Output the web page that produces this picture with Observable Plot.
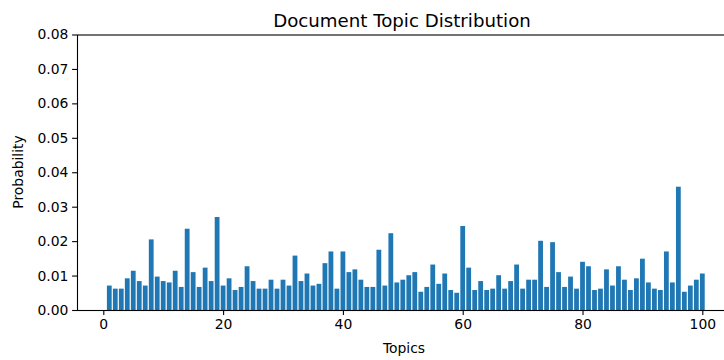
<!DOCTYPE html>
<html>
<head>
<meta charset="utf-8">
<script src="https://cdn.jsdelivr.net/npm/d3@7"></script>
<script src="https://cdn.jsdelivr.net/npm/@observablehq/plot@0.6"></script>
<style>
  html, body { margin: 0; padding: 0; background: #fff; overflow: hidden; width: 724px; height: 360px; }
  #wrap { position: relative; width: 724px; height: 360px; overflow: hidden; font-family: "DejaVu Sans", sans-serif; color: #000; }
  #chart { position: absolute; left: 0; top: 0; width: 735px; height: 360px; }
  #chart svg { max-width: none !important; }
  .lbl { position: absolute; white-space: nowrap; line-height: 1; }
  #title { font-size: 18.2px; left: 402px; top: 12px; transform: translateX(-50%); }
  #xlabel { font-size: 13.9px; left: 404px; top: 342px; transform: translateX(-50%); }
  #ylabel { font-size: 13.9px; left: 19px; top: 172px; transform: translate(-50%, -50%) rotate(-90deg); }
</style>
</head>
<body>
<div id="wrap">
  <div id="chart"></div>
  <div class="lbl" id="title">Document Topic Distribution</div>
  <div class="lbl" id="xlabel">Topics</div>
  <div class="lbl" id="ylabel">Probability</div>
</div>
<script>
const topics = d3.range(1, 101);
const probabilities = [
  0.0071, 0.0062, 0.0062, 0.0092, 0.0114, 0.0084, 0.0071, 0.0205, 0.0097, 0.0084,
  0.0080, 0.0114, 0.0067, 0.0236, 0.0110, 0.0067, 0.0123, 0.0084, 0.0270, 0.0071,
  0.0092, 0.0058, 0.0067, 0.0127, 0.0084, 0.0062, 0.0062, 0.0088, 0.0062, 0.0088,
  0.0071, 0.0158, 0.0084, 0.0106, 0.0071, 0.0076, 0.0136, 0.0170, 0.0062, 0.0170,
  0.0110, 0.0118, 0.0088, 0.0067, 0.0067, 0.0175, 0.0071, 0.0223, 0.0080, 0.0088,
  0.0101, 0.0110, 0.0053, 0.0067, 0.0132, 0.0076, 0.0106, 0.0058, 0.0050, 0.0244,
  0.0123, 0.0058, 0.0084, 0.0058, 0.0062, 0.0101, 0.0062, 0.0084, 0.0132, 0.0062,
  0.0088, 0.0088, 0.0201, 0.0067, 0.0197, 0.0110, 0.0067, 0.0097, 0.0062, 0.0140,
  0.0127, 0.0058, 0.0062, 0.0118, 0.0071, 0.0127, 0.0088, 0.0058, 0.0092, 0.0149,
  0.0080, 0.0062, 0.0058, 0.0170, 0.0080, 0.0358, 0.0053, 0.0071, 0.0088, 0.0106
];
const xTicks = [0, 20, 40, 60, 80, 100];
const yTicks = [0, 0.01, 0.02, 0.03, 0.04, 0.05, 0.06, 0.07, 0.08];

const data = topics.map((t, i) => ({topic: t, p: probabilities[i]}));
const barWidth = 0.8;

const plot = Plot.plot({
  width: 735,
  height: 360,
  marginLeft: 77,
  marginRight: 0.4,
  marginTop: 34.5,
  marginBottom: 50,
  style: {fontFamily: "DejaVu Sans, sans-serif", fontSize: "13.9px", color: "#000", background: "#fff", maxWidth: "none"},
  x: {domain: [-4.39, 105.39], ticks: xTicks, label: null},
  y: {domain: [0, 0.08], ticks: yTicks, label: null},
  marks: [
    Plot.rectY(data, {x1: d => d.topic - barWidth / 2, x2: d => d.topic + barWidth / 2, y: "p", fill: "#1f77b4"}),
    Plot.axisX({ticks: xTicks, tickSize: 4.9, tickPadding: 4.2, tickFormat: d3.format("d"), label: null, fontSize: 13.9, stroke: "#000", strokeWidth: 1.1}),
    Plot.axisY({ticks: yTicks, tickSize: 4.9, tickPadding: 4.2, tickFormat: d3.format(".2f"), label: null, fontSize: 13.9, stroke: "#000", strokeWidth: 1.1}),
    Plot.frame({stroke: "#000", strokeWidth: 1.1})
  ]
});
plot.style.maxWidth = "none";
document.getElementById("chart").appendChild(plot);
</script>
</body>
</html>
